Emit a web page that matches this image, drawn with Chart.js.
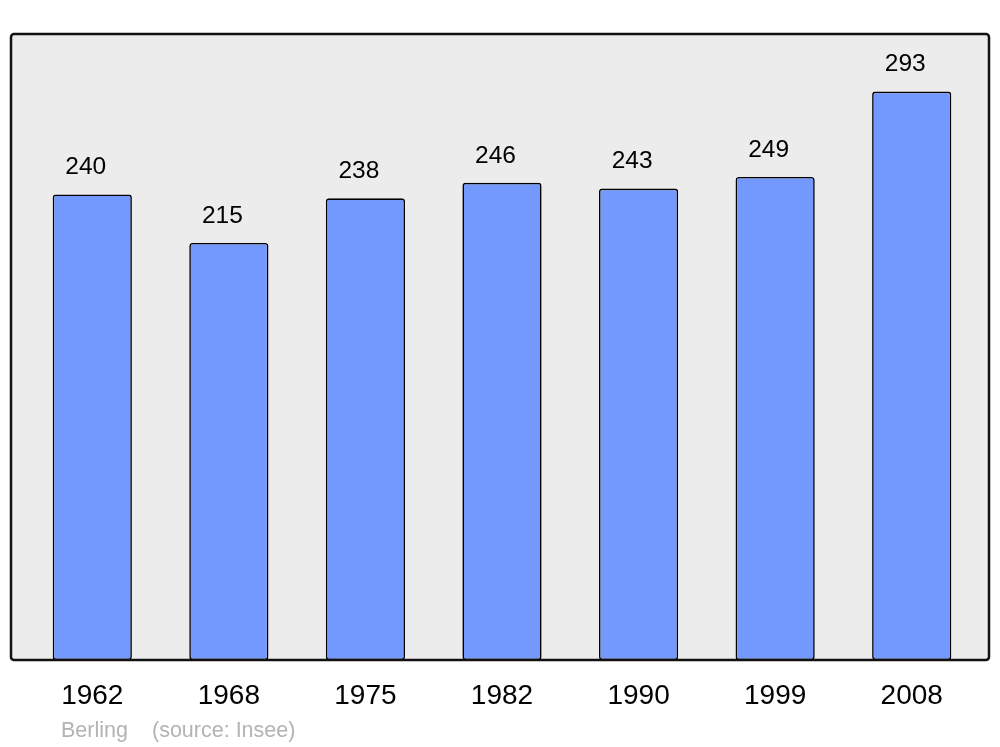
<!DOCTYPE html>
<html lang="fr">
<head>
  <meta charset="UTF-8">
  <title>Berling - population</title>
  <script src="https://cdn.jsdelivr.net/npm/chart.js"></script>
  <style>
    html, body { margin: 0; padding: 0; background: #fff; }
    #wrap { width: 1000px; height: 747px; }
  </style>
</head>
<body>
  <div id="wrap"><canvas id="popChart" width="1000" height="747"></canvas></div>

  <script>
    const years = ['1962', '1968', '1975', '1982', '1990', '1999', '2008'];
    const population = [240, 215, 238, 246, 243, 249, 293];
    const footerText = ['Berling', '(source: Insee)'];

    const FONT = '"Liberation Sans", Arial, sans-serif';

    // grey panel with black frame behind the bars
    const panel = {
      id: 'panel',
      beforeDraw(chart) {
        const { ctx, chartArea: a } = chart;
        const x0 = a.left - 13, x1 = a.right + 9, y0 = a.top, y1 = a.bottom;
        ctx.save();
        ctx.beginPath();
        ctx.roundRect(x0, y0, x1 - x0, y1 - y0, 3);
        ctx.fillStyle = '#ececec';
        ctx.fill();
        ctx.restore();
      },
      afterDraw(chart) {
        const { ctx, chartArea: a } = chart;
        const x0 = a.left - 13, x1 = a.right + 9, y0 = a.top, y1 = a.bottom;
        ctx.save();
        ctx.beginPath();
        ctx.roundRect(x0, y0, x1 - x0, y1 - y0, 3);
        ctx.lineWidth = 2.5;
        ctx.strokeStyle = '#111';
        ctx.stroke();

        // footer
        ctx.fillStyle = '#b3b3b3';
        ctx.font = '21.5px ' + FONT;
        ctx.textBaseline = 'middle';
        ctx.fillText(footerText[0], 61, 731);
        ctx.fillText(footerText[1], 152, 731);
        ctx.restore();
      }
    };

    const valueLabels = {
      id: 'valueLabels',
      afterDatasetsDraw(chart) {
        const { ctx } = chart;
        const meta = chart.getDatasetMeta(0);
        ctx.save();
        ctx.fillStyle = '#000';
        ctx.font = '24.5px ' + FONT;
        ctx.textAlign = 'center';
        ctx.textBaseline = 'middle';
        meta.data.forEach((bar, i) => {
          ctx.fillText(String(population[i]), bar.x - 6.5, bar.y - 27);
        });
        ctx.restore();
      }
    };

    new Chart(document.getElementById('popChart'), {
      type: 'bar',
      data: {
        labels: years,
        datasets: [{
          data: population,
          backgroundColor: '#7399ff',
          borderColor: '#000',
          borderWidth: 1.6,
          borderSkipped: false,
          borderRadius: 3,
          categoryPercentage: 1,
          barPercentage: 0.58
        }]
      },
      options: {
        responsive: false,
        animation: false,
        layout: { padding: { left: 24, right: 20, top: 34, bottom: 0 } },
        plugins: {
          legend: { display: false },
          tooltip: { enabled: false }
        },
        scales: {
          x: {
            grid: { display: false, drawTicks: false },
            border: { display: false },
            ticks: {
              color: '#000',
              padding: 19,
              font: { family: FONT, size: 28 }
            },
            afterFit(scale) { scale.height = 87; }
          },
          y: {
            display: false,
            min: 0,
            max: 322.7
          }
        }
      },
      plugins: [panel, valueLabels]
    });
  </script>
</body>
</html>
